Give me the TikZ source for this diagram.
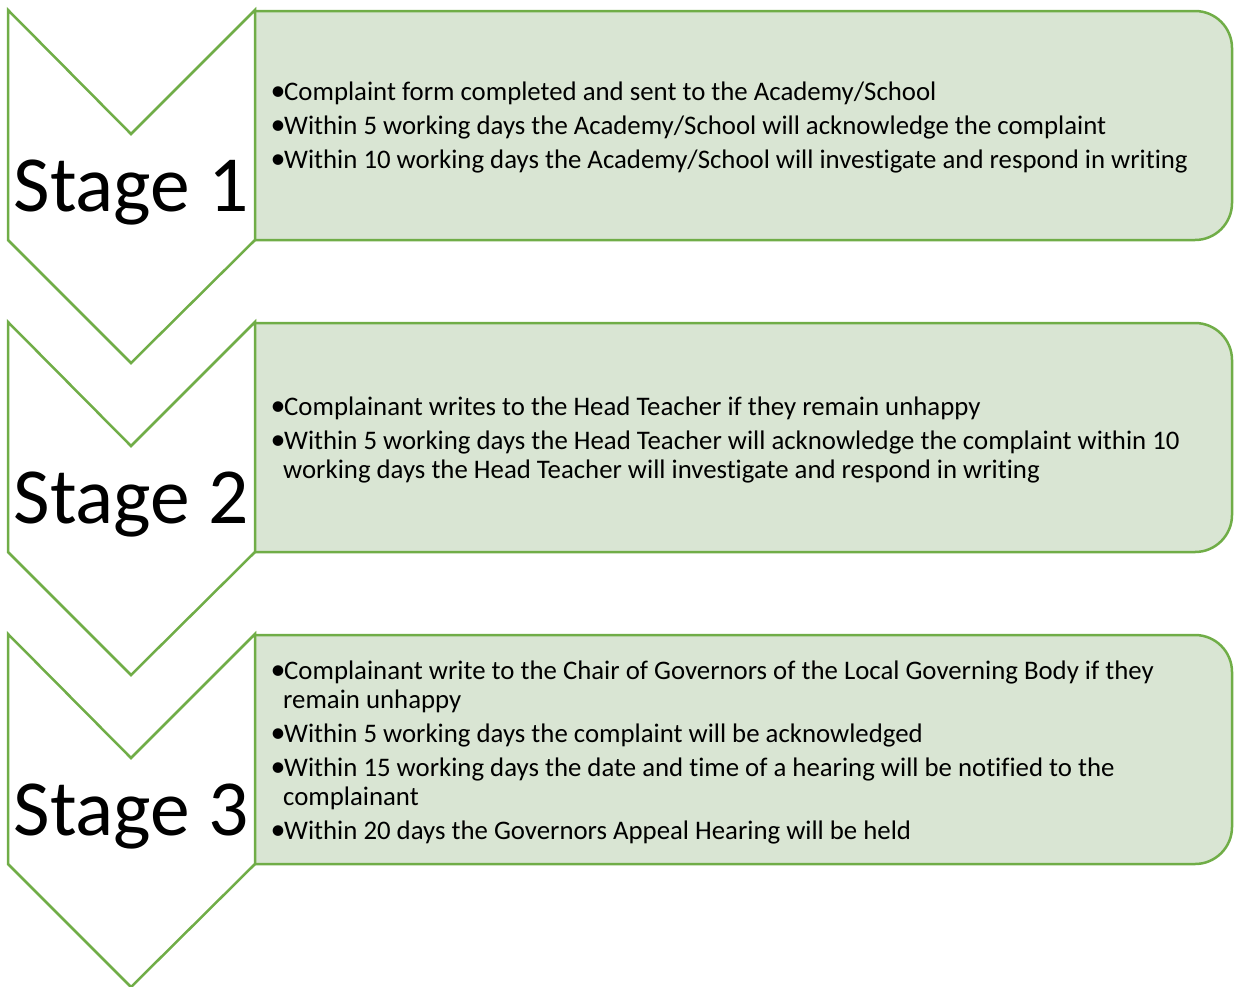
\documentclass[tikz,border=0pt]{standalone}
\usepackage{graphicx}
\usepackage{fontspec}
\setmainfont{Carlito}[Ligatures=NoCommon]
\definecolor{grn}{HTML}{70AD47}
\definecolor{boxfill}{HTML}{D9E5D3}
\newcommand{\bul}{\makebox[13pt][l]{\hspace{-0.5pt}\raisebox{-0.5pt}{\scalebox{1.12}{•}}}}
\newcommand{\cont}{\hspace*{12pt}}
\begin{document}
\begin{tikzpicture}[x=1pt,y=-1pt,
  chev/.style={draw=grn,fill=white,line width=2.5pt,line join=miter},
  boxshape/.style={draw=grn,fill=boxfill,line width=2.5pt,rounded corners=37pt},
  stagelabel/.style={anchor=base,inner sep=0pt,font=\fontsize{79.5}{80}\selectfont},
  bullets/.style={anchor=base west,inner sep=0pt,align=left,font=\fontsize{26.8}{29}\selectfont}]
\useasboundingbox (0,0) rectangle (1234,986);
\foreach \t/\s in {0/1,312/2,624/3}{
  \begin{scope}[yshift=-\t pt]
    \begin{scope}
      \clip (255,0) rectangle (1240,300);
      \path[boxshape] (200,11) rectangle (1232,240);
    \end{scope}
    \path[chev] (8,10) -- (131,134) -- (255,10) -- (255,240) -- (131,363) -- (8,240) -- cycle;
    \node[stagelabel] (stage\s) at (131,211) {Stage \s};
  \end{scope}
}
\node[bullets] (t1) at (271,168) {\bul Complaint form completed and sent to the Academy/School\\[5pt]
\bul Within 5 working days the Academy/School will acknowledge the complaint\\[5pt]
\bul Within 10 working days the Academy/School will investigate and respond in writing};
\node[bullets] (t2) at (271,478) {\bul Complainant writes to the Head Teacher if they remain unhappy\\[5pt]
\bul Within 5 working days the Head Teacher will acknowledge the complaint within 10\\
\cont working days the Head Teacher will investigate and respond in writing};
\node[bullets] (t3) at (271,839) {\bul Complainant write to the Chair of Governors of the Local Governing Body if they\\
\cont remain unhappy\\[5pt]
\bul Within 5 working days the complaint will be acknowledged\\[5pt]
\bul Within 15 working days the date and time of a hearing will be notified to the\\
\cont complainant\\[5pt]
\bul Within 20 days the Governors Appeal Hearing will be held};
\end{tikzpicture}
\end{document}
